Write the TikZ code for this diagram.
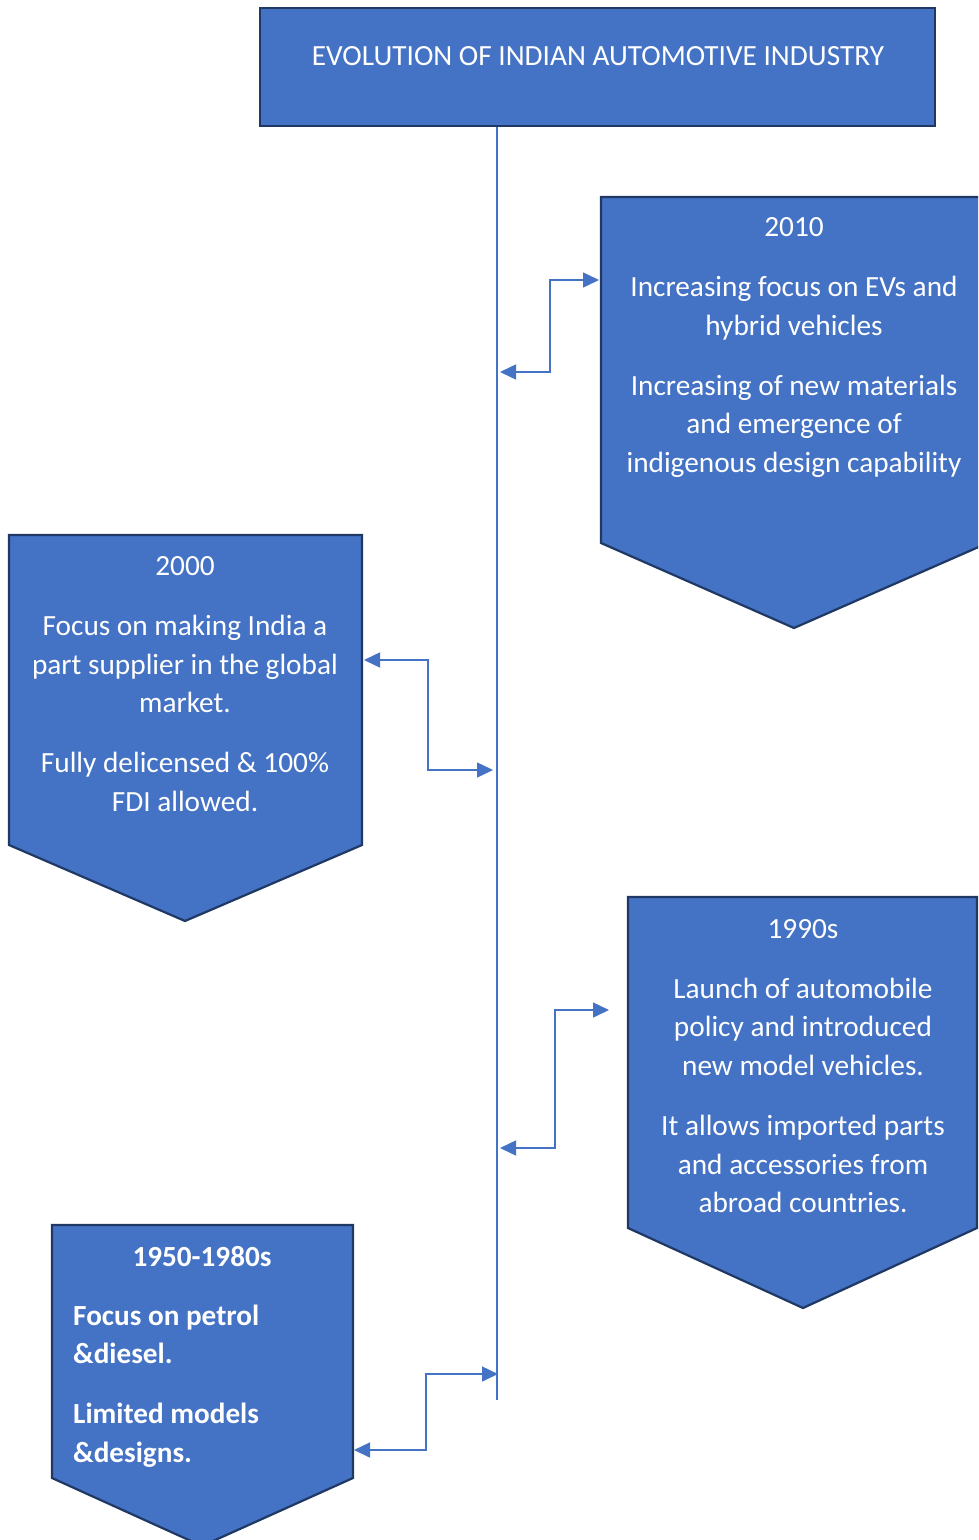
\documentclass[tikz,border=0pt]{standalone}
\usepackage{fontspec}
\setmainfont{Carlito}
\usetikzlibrary{arrows.meta}
\definecolor{boxfill}{HTML}{4472C4}
\definecolor{boxline}{HTML}{1F3864}
\definecolor{conn}{HTML}{4472C4}
\begin{document}
\begin{tikzpicture}[x=1pt,y=-1pt,
  shapebox/.style={fill=boxfill,draw=boxline,line width=2.2pt,line join=miter},
  txt/.style={text=white,inner sep=0pt,align=center,font=\fontsize{29.3}{38.6}\selectfont},
  btxt/.style={text=white,inner sep=0pt,font=\bfseries\fontsize{29.2}{38.6}\selectfont},
  timeline/.style={draw=conn,line width=1.4pt},
  link/.style={draw=conn,line width=1.5pt,{Triangle[length=16pt,width=15pt]}-{Triangle[length=16pt,width=15pt]}},
]
\useasboundingbox (0,0) rectangle (978,1540);
\begin{scope}
\clip (0,0) rectangle (978,1540);
% title
\draw[shapebox] (260,8) rectangle (935,126);
\node[txt,font=\fontsize{29.3}{34}\selectfont] (title) at (598,56) {EVOLUTION OF INDIAN AUTOMOTIVE INDUSTRY};
% timeline
\coordinate (tTop) at (497,127);
\coordinate (tBot) at (497,1400);
\draw[timeline] (tTop) -- (tBot);
% 2010
\draw[shapebox] (601,197) -- (990,197) -- (990,542) -- (794,628) -- (601,543) -- cycle;
\node[txt] (b2010) at (794,347.5) {2010\\[21.5pt]Increasing focus on EVs and\\hybrid vehicles\\[21.5pt]Increasing of new materials\\and emergence of\\indigenous design capability};
% 2000
\draw[shapebox] (9,535) -- (362,535) -- (362,845) -- (185,921) -- (9,845) -- cycle;
\node[txt] (b2000) at (185,684) {2000\\[21.5pt]Focus on making India a\\part supplier in the global\\market.\\[21.5pt]Fully delicensed \& 100\%\\FDI allowed.};
% 1990s
\draw[shapebox] (628,897) -- (977,897) -- (977,1228) -- (803,1308) -- (628,1228) -- cycle;
\node[txt] (b1990) at (803,1066) {1990s\\[21.5pt]Launch of automobile\\policy and introduced\\new model vehicles.\\[21.5pt]It allows imported parts\\and accessories from\\abroad countries.};
% 1950-1980s
\draw[shapebox] (52,1225) -- (353,1225) -- (353,1478) -- (202,1546) -- (52,1478) -- cycle;
\node[btxt] (h1950) at (202,1257) {1950-1980s};
\node[btxt,align=left,anchor=west] (b1950) at (73,1386) {Focus on petrol\\\&diesel.\\[21.5pt]Limited models\\\&designs.};
% connectors
\coordinate (p2010) at (599,280);
\coordinate (t2010) at (500,372);
\draw[link] (p2010) -- ++(-49,0) |- (t2010);
\coordinate (p2000) at (364,660);
\coordinate (t2000) at (493,770);
\draw[link] (p2000) -- ++(64,0) |- (t2000);
\coordinate (p1990) at (609,1010);
\coordinate (t1990) at (500,1148);
\draw[link] (p1990) -- ++(-54,0) |- (t1990);
\coordinate (p1950) at (354,1450);
\coordinate (t1950) at (498,1374);
\draw[link] (p1950) -- ++(72,0) |- (t1950);
\end{scope}
\end{tikzpicture}
\end{document}
